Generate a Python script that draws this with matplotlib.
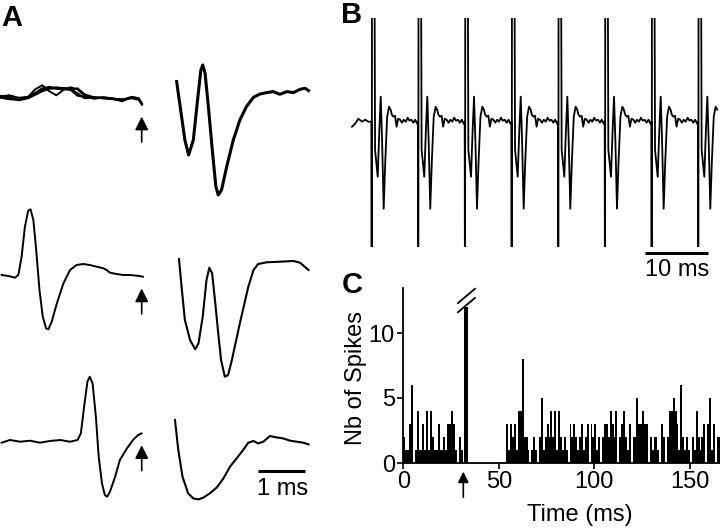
import matplotlib.pyplot as plt
import numpy as np

plt.rcParams['font.family'] = ['Liberation Sans', 'DejaVu Sans']

# ---------------- Panel A: spike waveforms (time in ms, amplitude in a.u.)
# row 1, left: several superimposed pre-stimulus sweeps
a1_left_t = [0, 0.2, 0.4, 0.6, 0.75, 0.9, 1.05, 1.2, 1.35, 1.5, 1.65, 1.8,
             2.0, 2.2, 2.4, 2.6, 2.8, 2.95, 3.02]
a1_left_sweeps = [
    [0.7, 2, -0.5, 0.5, 8, 12, 6, 2, 7.5, 10, 8, 1.5, -1.5, 0, -1.5, -2, -1, -2.5, -7.5],
    [0, -1, -2.5, 0.5, 4, 7, 9.5, 10, 9, 7.5, 9, 3, 0, 0, -1, -2.5, 0.5, -1, -6.5],
    [1.5, 0.5, -3, -1, 2.5, 6, 8.5, 9, 9.5, 8.5, 4, -1, 0, -1, -1.5, -4, 0, -1, -6],
    [-0.3, -2, -2.5, 0.5, 4.5, 9, 10.5, 8.5, 8, 7.5, 1.5, 0.5, -0.5, -1, -2, -3, -0.5, -1.5, -6.5],
]
# row 1, right
a1_right_t = [0.035, 0.11, 0.21, 0.29, 0.39, 0.48, 0.55, 0.59, 0.64, 0.71, 0.80,
              0.87, 0.92, 0.99, 1.10, 1.24, 1.38, 1.52, 1.67, 1.81, 1.95, 2.09,
              2.23, 2.38, 2.52, 2.66, 2.77, 2.84]
a1_right_v = [15.7, -9.3, -42.7, -57.7, -42.7, -2.7, 27.3, 32.3, 24, -9.3, -56,
              -89.3, -97.7, -92.7, -69.3, -42.7, -22.7, -9.3, 0, 3.3, 4.7, 5.7,
              3, 5.7, 4.7, 8, 9, 6.7]
# row 2
a2_left_t = [0.035, 0.18, 0.32, 0.39, 0.46, 0.53, 0.60, 0.65, 0.71, 0.77, 0.84,
             0.91, 0.98, 1.03, 1.10, 1.21, 1.35, 1.49, 1.63, 1.77, 1.91, 2.06,
             2.20, 2.27, 2.34, 2.48, 2.62, 2.77, 2.91, 3.04]
a2_left_v = [1, 0, -1.7, 1, 19.3, 49.3, 65.3, 66.7, 56, 26, -14, -40.7, -52.3,
             -53.3, -45.7, -27.3, -7.3, 6, 11, 12, 11, 9.3, 7.7, 6, 3.3, 2, 1, 1,
             0.3, -0.7]
a2_right_t = [0.085, 0.14, 0.21, 0.32, 0.43, 0.50, 0.59, 0.67, 0.73, 0.79, 0.85,
              0.92, 0.98, 1.06, 1.13, 1.21, 1.38, 1.56, 1.67, 1.77, 1.95, 2.23,
              2.52, 2.66, 2.84]
a2_right_v = [17, -10.7, -44, -64, -73.3, -67.3, -40.7, -4, 8.3, 2.7, -24, -57.3,
              -84, -100.7, -99, -84, -47.3, -10.7, 6, 12, 13.7, 14.3, 15, 13.3, 6]
# row 3
a3_left_t = [0.035, 0.21, 0.43, 0.64, 0.85, 1.06, 1.28, 1.49, 1.65, 1.72, 1.79,
             1.86, 1.91, 1.97, 2.04, 2.10, 2.17, 2.23, 2.28, 2.34, 2.45, 2.55,
             2.70, 2.84, 2.94, 3.01]
a3_left_v = [-1, 1.7, 0, 1, -1, 0.7, 1.7, 0, 1.7, 8.3, 35, 60, 65, 58.3, 25, -15,
             -41.7, -53.3, -55, -50, -35, -18.3, -6.7, 2.3, 6.7, 8.3]
a3_right_t = [0, 0.07, 0.16, 0.28, 0.39, 0.50, 0.60, 0.74, 0.89, 1.03, 1.17, 1.31,
              1.45, 1.56, 1.67, 1.77, 1.88, 2.02, 2.16, 2.30, 2.45, 2.59, 2.73, 2.84]
a3_right_v = [21.7, -8.3, -35, -51.7, -56.7, -57.7, -56, -51.7, -45.7, -36.7, -25,
              -16.7, -8.3, -1, 0.7, -1.7, 0, 5.7, 4.3, 3.3, 1, 0, -1, -2.7]
stim_time_A = 3.015  # ms, arrow under the left traces

# ---------------- Panel B: raw trace, one spike cycle repeated
b_pre_t = [0.0, 0.5, 1.0, 1.6, 2.1, 2.6, 3.0]
b_pre_v = [-5, -2, 3, 0, 2, 0, 0]
b_spike_times = [3.13, 10.52, 17.94, 25.35, 32.75, 40.16, 47.57, 54.97]
b_cycle_t = [-0.05, 0.0, 0.05, 0.37, 0.53, 0.95, 1.2, 1.43, 1.65, 1.9, 2.15,
             2.45, 2.75, 3.0, 3.2, 3.45, 3.7, 3.95, 4.2, 4.5, 4.8, 5.1, 5.4,
             5.7, 6.0, 6.3, 6.6, 6.9, 7.2]
b_cycle_v = [0, -300, 300, 300, -28, -55, -10, 25, -20, -87, -40, 5, 15, 12, 7,
             5, 6, -5, 3, 2, -1, 2, 0, 4, 1, 2, -1, 2, -2]
b_trace_end = 58.1

# ---------------- Panel C: PSTH, 1 ms bins
c_counts = ([2, 1, 1, 3, 6, 0, 1, 4, 1, 1, 3, 1, 4, 1, 4, 2, 1, 1, 3, 1,
             1, 2, 1, 3, 3, 4, 3, 1, 0, 2, 1, 0, 12, 12]
            + [0] * 20
            + [3, 1, 3, 2, 3, 1, 4, 4, 8, 2,
               2, 1, 0, 1, 2, 1, 0, 2, 5, 1,
               2, 3, 2, 4, 2, 4, 1, 4, 2, 1,
               2, 1, 0, 3, 2, 3, 2, 1, 2, 3,
               1, 2, 3, 0, 3, 2, 3, 1, 2, 0,
               2, 3, 3, 2, 4, 3, 2, 4, 0, 2,
               3, 4, 2, 1, 3, 0, 2, 2, 5, 3,
               3, 4, 3, 3, 0, 2, 1, 2, 2, 1,
               0, 3, 2, 0, 2, 4, 4, 5, 4, 3,
               1, 6, 2, 1, 2, 1, 0, 2, 1, 4,
               2, 1, 2, 3, 0, 3, 5, 1, 3, 0,
               2, 2])
c_bins = np.arange(len(c_counts))
stim_time_C = 31.4

W, H = 720, 529
fig = plt.figure(figsize=(7.2, 5.29), dpi=100)

# ---- A
axA = fig.add_axes([0, 0, 340 / W, 1])
axA.set_xlim(0, 340 / 47)
axA.set_ylim(-H, 0)
axA.axis('off')
right_x0 = 175 / 47
rows = [(-97.3, a1_left_t, a1_left_sweeps, a1_right_t, a1_right_v),
        (-276.0, a2_left_t, [a2_left_v], a2_right_t, a2_right_v),
        (-441.7, a3_left_t, [a3_left_v], a3_right_t, a3_right_v)]
for base, lt, lsweeps, rt, rv in rows:
    for sw in lsweeps:
        axA.plot(lt, base + np.array(sw), color='black', lw=1.4)
    axA.plot(right_x0 + np.array(rt), base + np.array(rv), color='black',
             lw=2.2 if len(lsweeps) > 1 else 1.5)
    tip = base + lsweeps[0][-1] - 9
    axA.annotate('', xy=(stim_time_A, tip), xytext=(stim_time_A, tip - 31),
                 arrowprops=dict(arrowstyle='-|>', color='black', lw=1.2,
                                 mutation_scale=20))
axA.plot([258 / 47, 305 / 47], [-471, -471], color='black', lw=2.2,
         solid_capstyle='butt')
axA.text(283 / 47, -489, '1 ms', ha='center', va='center', fontsize=17)

# ---- B
axB = fig.add_axes([340 / W, 1 - 247 / H, 380 / W, 229 / H])
axB.set_xlim(-12 / 6.3, 368 / 6.3)
axB.set_ylim(-125.3, 103.7)
axB.axis('off')
bt = list(b_pre_t)
bv = list(b_pre_v)
for s in b_spike_times:
    bt += [s + t for t in b_cycle_t]
    bv += b_cycle_v
bt = np.array(bt)
bv = np.array(bv)
keep = bt <= b_trace_end
axB.plot(bt[keep], bv[keep], color='black', lw=1.3)
axB.plot([(645 - 352) / 6.3, (708 - 352) / 6.3], [-131.3, -131.3], color='black',
         lw=2.2, solid_capstyle='butt', clip_on=False)
axB.text((677 - 352) / 6.3, -148, '10 ms', ha='center', va='center',
         fontsize=17, clip_on=False)

# ---- C
axC = fig.add_axes([403.3 / W, 1 - 463 / H, (W - 403.3) / W, 175 / H])
axC.bar(c_bins, c_counts, width=1.0, align='edge', color='black', linewidth=0)
axC.set_xlim(0, (W - 403.3) / 1.911)
axC.set_ylim(0, 175 / 13)
for side in ['top', 'right']:
    axC.spines[side].set_visible(False)
for side in ['left', 'bottom']:
    axC.spines[side].set_linewidth(1.3)
axC.set_xticks([0, 50, 100, 150])
axC.set_yticks([0, 5, 10])
axC.tick_params(direction='out', length=4, width=1.2, labelsize=17, pad=2)
axC.plot([28.6, 37.5], [12.3, 13.4], color='black', lw=1.3, clip_on=False)
axC.plot([28.6, 37.5], [11.6, 12.7], color='black', lw=1.3, clip_on=False)
axC.annotate('', xy=(stim_time_C, -0.45), xytext=(stim_time_C, -2.85),
             xycoords='data', annotation_clip=False,
             arrowprops=dict(arrowstyle='-|>', color='black', lw=1.2,
                             mutation_scale=16))
fig.text(580 / W, 1 - 515 / H, 'Time (ms)', ha='center', va='center', fontsize=17)
fig.text(356 / W, 1 - 378 / H, 'Nb of Spikes', ha='center', va='center',
         fontsize=17, rotation=90)

# panel letters
fig.text(1 / W, 1 - 4 / H, 'A', fontsize=21, fontweight='bold', va='top')
fig.text(341 / W, 1 - 1 / H, 'B', fontsize=21, fontweight='bold', va='top')
fig.text(342 / W, 1 - 271 / H, 'C', fontsize=21, fontweight='bold', va='top')

fig.savefig('out.png', dpi=100)
